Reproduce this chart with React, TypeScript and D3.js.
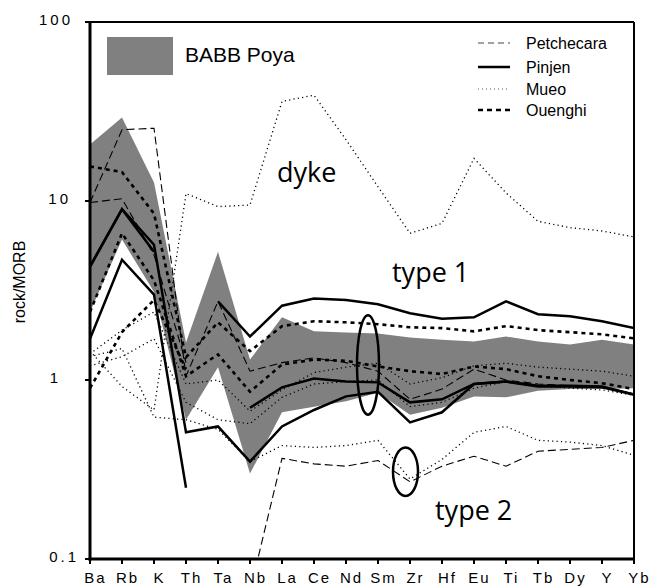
import React from 'react';
import * as d3 from 'd3';

const CATEGORIES = ['Ba', 'Rb', 'K', 'Th', 'Ta', 'Nb', 'La', 'Ce', 'Nd', 'Sm', 'Zr', 'Hf', 'Eu', 'Ti', 'Tb', 'Dy', 'Y', 'Yb'];
const Y_TICKS = [0.1, 1, 10, 100];
const Y_TICK_LABELS = ['0.1', '1', '10', '100'];

// BABB Poya envelope
const BAND_UPPER = [20.7, 29.3, 12.7, 1.62, 5.2, 1.3, 2.24, 1.87, 1.84, 1.82, 1.73, 1.68, 1.64, 1.75, 1.64, 1.58, 1.68, 1.58];
const BAND_LOWER = [2.4, 6.1, 3.1, 0.6, 1.18, 0.3, 0.66, 0.71, 0.76, 0.85, 0.64, 0.7, 0.81, 0.8, 0.87, 0.89, 0.89, 0.9];

type V = number | null;
const _ = null;

const PETCHECARA: V[][] = [
  [9.8, 25, 25.5, 1.05, 2.75, 1.12, 1.25, 1.33, 1.25, 1.12, 0.78, 0.89, 1.15, 1.0, 0.95, 0.93, 0.92, 0.83],
  [9.8, 10.3, 5.0, 1.25, _, _, _, _, _, _, _, _, _, _, _, _, _, _],
  [_, _, _, _, _, 0.066, 0.365, 0.34, 0.33, 0.355, 0.27, 0.33, 0.375, 0.33, 0.4, 0.41, 0.42, 0.46],
];

const PINJEN: V[][] = [
  [4.3, 9, 5.7, 0.51, 0.55, 0.35, 0.55, 0.68, 0.81, 0.86, 0.58, 0.66, 0.95, 0.98, 0.92, 0.92, 0.91, 0.83],
  [4.3, 9, 5.2, _, _, _, _, _, _, _, _, _, _, _, _, _, _, _],
  [1.7, 4.7, 3.0, 0.25, _, _, _, _, _, _, _, _, _, _, _, _, _, _],
  [_, _, _, _, 2.75, 1.75, 2.6, 2.85, 2.8, 2.65, 2.36, 2.2, 2.24, 2.75, 2.33, 2.27, 2.13, 1.95],
  [_, _, _, _, _, 0.7, 0.91, 1.02, 0.98, 0.97, 0.75, 0.78, 0.95, 0.98, 0.93, 0.93, 0.92, 0.83],
];

const MUEO: V[][] = [
  [1.45, 0.92, 0.68, 11, 9.3, 9.5, 36, 39, 22, 12, 6.6, 7.5, 17.3, 11.1, 7.7, 7.1, 6.8, 6.3],
  [1.35, 1.5, 0.62, 0.6, 0.53, 0.35, 0.43, 0.42, 0.43, 0.46, 0.28, 0.36, 0.51, 0.55, 0.46, 0.45, 0.43, 0.38],
  [1.4, 1.9, 2.4, 0.95, 1.0, 0.67, 0.88, 1.1, 1.18, 1.24, 0.95, 1.03, 1.2, 1.24, 1.18, 1.15, 1.12, 1.05],
  [1.2, 1.35, 1.7, 0.75, 0.6, 0.57, 0.8, 0.95, 0.98, 1.0, 0.71, 0.75, 0.9, 0.98, 0.93, 0.9, 0.88, 0.82],
];

const OUENGHI: V[][] = [
  [15.6, 14.5, 8.5, 1.34, 2.1, 1.45, 2.0, 2.13, 2.1, 2.05, 1.97, 1.95, 1.87, 2.0, 1.9, 1.85, 1.8, 1.71],
  [2.4, 6.6, 3.6, 1.05, 1.39, 0.86, 1.22, 1.3, 1.28, 1.19, 1.12, 1.08, 1.19, 1.15, 1.05, 1.0, 0.96, 0.89],
  [0.9, 1.85, 2.8, 1.15, _, _, _, _, _, _, _, _, _, _, _, _, _, _],
];

const LEGEND = ['Petchecara', 'Pinjen', 'Mueo', 'Ouenghi'];

const STYLES: Record<string, { w: number; dash?: string; color: string }> = {
  Petchecara: { w: 1.1, dash: '8,4', color: '#000' },
  Pinjen: { w: 2.5, color: '#000' },
  Mueo: { w: 1.3, dash: '1.2,3.2', color: '#000' },
  Ouenghi: { w: 2.6, dash: '4,4', color: '#000' },
};
const LEGEND_STYLES: Record<string, { w: number; dash?: string; color: string }> = {
  Petchecara: { w: 1, dash: '6,4', color: '#444' },
  Pinjen: { w: 2.5, color: '#000' },
  Mueo: { w: 1, dash: '1,3', color: '#555' },
  Ouenghi: { w: 2.5, dash: '5,4', color: '#000' },
};

const LEFT = 90, RIGHT = 634, TOP = 22, BOTTOM = 559;
const FONT = '"Liberation Sans", Arial, sans-serif';
const FONT2 = '"Open Sans", "DejaVu Sans", sans-serif';

export default function App() {
  const x = d3.scalePoint<string>().domain(CATEGORIES).range([LEFT, RIGHT]);
  const y = d3.scaleLog().domain([0.1, 100]).range([BOTTOM, TOP]);
  const xi = (i: number) => x(CATEGORIES[i]) as number;

  const area = d3
    .area<number>()
    .x((_d, i) => xi(i))
    .y0((_d, i) => y(BAND_LOWER[i]))
    .y1((d) => y(d));

  const line = d3
    .line<V>()
    .defined((d) => d != null)
    .x((_d, i) => xi(i))
    .y((d) => y(d as number));

  const groups: [string, V[][]][] = [
    ['Mueo', MUEO],
    ['Petchecara', PETCHECARA],
    ['Ouenghi', OUENGHI],
    ['Pinjen', PINJEN],
  ];

  const yLabelEnd: Record<string, number> = { '0.1': 79, '1': 61, '10': 71, '100': 73 };

  return (
    <svg width={650} height={588} style={{ position: 'absolute', left: 0, top: 0, background: '#fff' }}>
      <defs>
        <clipPath id="plot">
          <rect x={LEFT} y={TOP} width={RIGHT - LEFT} height={BOTTOM - TOP} />
        </clipPath>
      </defs>
      <rect x={0} y={0} width={650} height={588} fill="#fff" />
      <g clipPath="url(#plot)">
        <path d={area(BAND_UPPER) || ''} fill="#808080" stroke="none" />
        {groups.map(([name, series]) =>
          series.map((s, k) => (
            <path
              key={name + k}
              d={line(s) || ''}
              fill="none"
              stroke={STYLES[name].color}
              strokeWidth={STYLES[name].w}
              strokeDasharray={STYLES[name].dash}
              strokeLinejoin="miter"
            />
          ))
        )}
      </g>
      {/* frame */}
      <line x1={LEFT} x2={RIGHT} y1={TOP} y2={TOP} stroke="#000" strokeWidth={2} />
      <line x1={RIGHT} x2={RIGHT} y1={TOP} y2={BOTTOM} stroke="#000" strokeWidth={2} />
      <line x1={LEFT} x2={LEFT} y1={TOP - 1} y2={BOTTOM + 1.5} stroke="#000" strokeWidth={3} />
      <line x1={LEFT - 1.5} x2={RIGHT + 1} y1={BOTTOM} y2={BOTTOM} stroke="#000" strokeWidth={3} />
      {/* y ticks */}
      {Y_TICKS.map((t, i) => (
        <g key={'yt' + t}>
          <line x1={LEFT - 5} x2={LEFT} y1={y(t)} y2={y(t)} stroke="#000" strokeWidth={2} />
          <text
            x={yLabelEnd[Y_TICK_LABELS[i]]}
            y={y(t) + 3.4}
            textAnchor="end"
            fontFamily={FONT}
            fontSize={15}
            letterSpacing={3}
            fill="#000"
          >
            {Y_TICK_LABELS[i]}
          </text>
        </g>
      ))}
      {/* x ticks */}
      {CATEGORIES.map((c) => (
        <g key={'xt' + c}>
          <line x1={x(c)} x2={x(c)} y1={BOTTOM} y2={BOTTOM + 5} stroke="#000" strokeWidth={2} />
          <text
            x={(x(c) as number) + 5.5}
            y={583}
            textAnchor="middle"
            fontFamily={FONT}
            fontSize={15}
            letterSpacing={2}
            fill="#000"
          >
            {c}
          </text>
        </g>
      ))}
      <text
        transform="translate(25,282) rotate(-90)"
        textAnchor="middle"
        fontFamily={FONT}
        fontSize={16}
        fill="#000"
      >
        rock/MORB
      </text>
      {/* BABB legend */}
      <rect x={107} y={37} width={66} height={38} fill="#808080" />
      <text x={185} y={62} fontFamily={FONT} fontSize={21} fill="#000">
        BABB Poya
      </text>
      {/* line legend */}
      {LEGEND.map((name, i) => {
        const ly = [43, 67, 89, 110][i];
        const st = LEGEND_STYLES[name];
        return (
          <g key={'lg' + name}>
            <line x1={478} x2={510} y1={ly} y2={ly} stroke={st.color} strokeWidth={st.w} strokeDasharray={st.dash} />
            <text x={526} y={ly + 6} fontFamily={FONT} fontSize={16} fill="#000">
              {name}
            </text>
          </g>
        );
      })}
      {/* annotations */}
      <text x={277} y={182} fontFamily={FONT2} fontSize={27} fill="#000">dyke</text>
      <text x={392} y={282} fontFamily={FONT2} fontSize={27} fill="#000">type 1</text>
      <text x={435} y={520} fontFamily={FONT2} fontSize={27} fill="#000">type 2</text>
      <ellipse
        cx={(x('Sm') as number) - 10}
        cy={(y(2.3) + y(0.64)) / 2}
        rx={11}
        ry={(y(0.64) - y(2.3)) / 2}
        fill="none"
        stroke="#000"
        strokeWidth={2.5}
      />
      <ellipse
        cx={(x('Zr') as number) - 4.5}
        cy={(y(0.42) + y(0.225)) / 2}
        rx={12.5}
        ry={(y(0.225) - y(0.42)) / 2}
        fill="none"
        stroke="#000"
        strokeWidth={2.5}
      />
    </svg>
  );
}
